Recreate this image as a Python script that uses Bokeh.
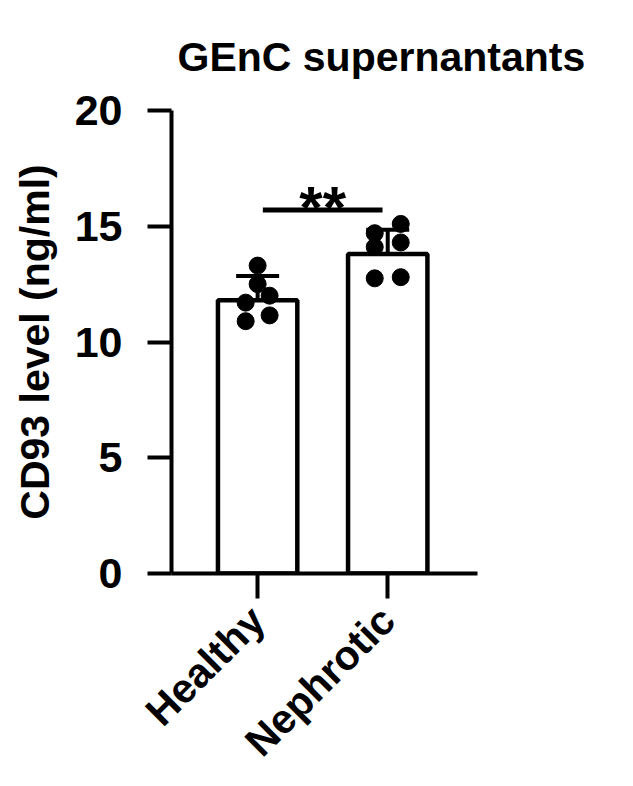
from bokeh.models import ColumnDataSource, Range1d, FixedTicker, Whisker, TeeHead
from bokeh.plotting import figure
from bokeh.core.properties import value
from bokeh.embed import file_html
from bokeh.resources import INLINE

# data
categories = ["Healthy", "Nephrotic"]
healthy_pts = [13.3, 12.5, 12.0, 11.7, 10.9, 11.15]
nephrotic_pts = [15.1, 14.7, 14.3, 14.1, 12.75, 12.8]
bar_means = [11.8, 13.8]
bar_sds = [1.05, 1.05]
sig_label = "**"
y_ticks = [0, 5, 10, 15, 20]

FONT = "Liberation Sans"

p = figure(title="GEnC supernantants", output_backend="svg", toolbar_location=None,
           frame_width=306, frame_height=463,
           min_border_left=171, min_border_right=140,
           min_border_top=110, min_border_bottom=197,
           x_range=Range1d(0.338, 2.69), y_range=Range1d(0, 20))
p.outline_line_color = None
p.grid.grid_line_color = None

# title
p.title.text_font = FONT
p.title.text_font_size = "41px"
p.title.text_font_style = "bold"
p.title.text_color = "black"
p.title.text_line_height = 0.8
p.title.align = "left"
p.title.offset = 6
p.title.standoff = 62

# axes
for ax in (p.xaxis, p.yaxis):
    ax.axis_line_width = 4
    ax.major_tick_line_width = 4
    ax.major_tick_in = 0
    ax.minor_tick_line_color = None
    ax.major_label_text_font = FONT
    ax.major_label_text_font_style = "bold"
    ax.major_label_text_color = "black"
    ax.axis_line_color = "black"
    ax.major_tick_line_color = "black"

p.yaxis.ticker = FixedTicker(ticks=y_ticks)
p.yaxis.major_tick_out = 24
p.yaxis.major_label_text_font_size = "43px"
p.yaxis.major_label_standoff = 25
p.yaxis.axis_label = "CD93 level (ng/ml)"
p.yaxis.axis_label_text_font = FONT
p.yaxis.axis_label_text_font_size = "41px"
p.yaxis.axis_label_text_font_style = "bold"
p.yaxis.axis_label_text_color = "black"
p.yaxis.axis_label_standoff = 14

p.xaxis.ticker = FixedTicker(ticks=[1, 2])
p.xaxis.major_label_overrides = {i + 1: c for i, c in enumerate(categories)}
p.xaxis.major_tick_out = 25
p.xaxis.major_label_text_font_size = "41px"
p.xaxis.major_label_orientation = 0.785398
p.xaxis.major_label_standoff = 15

# bars
xs = [i + 1 for i in range(len(categories))]
p.vbar(x=xs, top=bar_means, bottom=0, width=0.61, fill_color="white",
       line_color="black", line_width=4.5)

# points, with a small horizontal spread
jitter = [0, 0, 0.092, -0.092, -0.092, 0.092]
jitter2 = [0.1, -0.1, 0.1, -0.1, -0.1, 0.1]
px = [1 + j for j in jitter] + [2 + j for j in jitter2]
py = healthy_pts + nephrotic_pts
p.scatter(px, py, size=17, color="black")

# error bars (mean +/- SD)
err = ColumnDataSource(data=dict(
    x=xs,
    upper=[m + s for m, s in zip(bar_means, bar_sds)],
    lower=[m - s for m, s in zip(bar_means, bar_sds)],
))
wh = Whisker(source=err, base="x", upper="upper", lower="lower",
             line_width=4, line_color="black",
             upper_head=TeeHead(size=43, line_width=4, line_color="black"),
             lower_head=TeeHead(size=43, line_width=4, line_color="black"))
p.add_layout(wh)

# significance bracket
p.segment(x0=[1.04], y0=[15.7], x1=[1.96], y1=[15.7], line_width=5, line_color="black")
p.text(x=[1.5], y=[15.8], text=[sig_label], text_font=value(FONT), text_font_size="60px",
       text_font_style="bold", text_align="center", text_baseline="alphabetic",
       text_color="black")

open("out.html", "w").write(file_html(p, INLINE))
